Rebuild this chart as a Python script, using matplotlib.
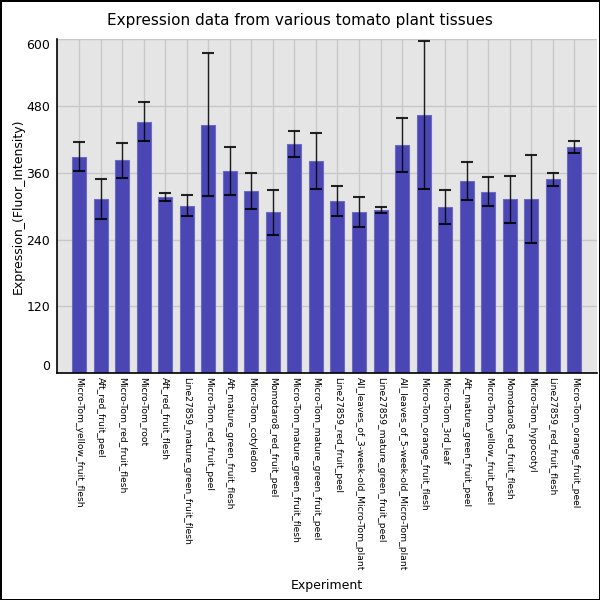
import matplotlib
matplotlib.use("Agg")
import matplotlib.pyplot as plt
import numpy as np

experiments = [
    "Micro-Tom_yellow_fruit_flesh",
    "Aft_red_fruit_peel",
    "Micro-Tom_red_fruit_flesh",
    "Micro-Tom_root",
    "Aft_red_fruit_flesh",
    "Line27859_mature_green_fruit_flesh",
    "Micro-Tom_red_fruit_peel",
    "Aft_mature_green_fruit_flesh",
    "Micro-Tom_cotyledon",
    "Momotaro8_red_fruit_peel",
    "Micro-Tom_mature_green_fruit_flesh",
    "Micro-Tom_mature_green_fruit_peel",
    "Line27859_red_fruit_peel",
    "All_leaves_of_3-week-old_Micro-Tom_plant",
    "Line27859_mature_green_fruit_peel",
    "All_leaves_of_5-week-old_Micro-Tom_plant",
    "Micro-Tom_orange_fruit_flesh",
    "Micro-Tom_3rd_leaf",
    "Aft_mature_green_fruit_peel",
    "Micro-Tom_yellow_fruit_peel",
    "Momotaro8_red_fruit_flesh",
    "Micro-Tom_hypocotyl",
    "Line27859_red_fruit_flesh",
    "Micro-Tom_orange_fruit_peel",
]
means = [389, 312, 382, 451, 317, 301, 446, 363, 327, 289, 412, 381,
         309, 289, 293, 410, 463, 298, 345, 326, 312, 312, 348, 406]
errors = [26, 36, 32, 35, 7, 19, 128, 43, 33, 40, 23, 51,
          27, 27, 6, 48, 133, 31, 34, 26, 42, 79, 12, 11]
y_ticks = [0, 120, 240, 360, 480, 600]

fig = plt.figure(figsize=(6, 6), dpi=100, edgecolor="black", linewidth=2)
ax = fig.add_axes([0.095, 0.378, 0.9, 0.557])
ax.set_facecolor("#e5e5e5")

x = np.arange(len(experiments))
ax.bar(x, means, width=0.65, color="#4a47b4", edgecolor="#6d6ac4",
       linewidth=0.8, zorder=2)
ax.errorbar(x, means, yerr=errors, fmt="none", ecolor="black", elinewidth=1,
            capsize=4.5, capthick=1.5, alpha=0.85, zorder=3)

ax.set_xlim(-1.02, len(experiments) - 1 + 1.05)
ax.set_ylim(0, 600)
ax.set_xticks(x)
ax.set_xticklabels(experiments, rotation=-90, fontsize=6.6, va="top", ha="center")
ax.set_yticks(y_ticks)
ax.set_yticklabels([str(t) for t in y_ticks], fontsize=9)
ylabels = ax.get_yticklabels()
ylabels[0].set_va("bottom")
ylabels[-1].set_va("top")
ax.tick_params(axis="both", length=0, pad=3)
ax.tick_params(axis="y", pad=5)

ax.grid(True, color="#c8c8c8", linewidth=1, zorder=0)
ax.set_axisbelow(True)
for side in ("top", "right"):
    ax.spines[side].set_visible(False)
ax.spines["left"].set_linewidth(1.2)
ax.spines["bottom"].set_linewidth(1.2)

ax.set_xlabel("Experiment", fontsize=9)
ax.xaxis.set_label_coords(0.5, -0.617)
ax.set_ylabel("Expression_(Fluor_Intensity)", fontsize=9)
ax.yaxis.set_label_coords(-0.06, 0.5)
fig.text(0.5, 0.965, "Expression data from various tomato plant tissues",
         ha="center", va="center", fontsize=11)

fig.savefig("out.png", dpi=100)
